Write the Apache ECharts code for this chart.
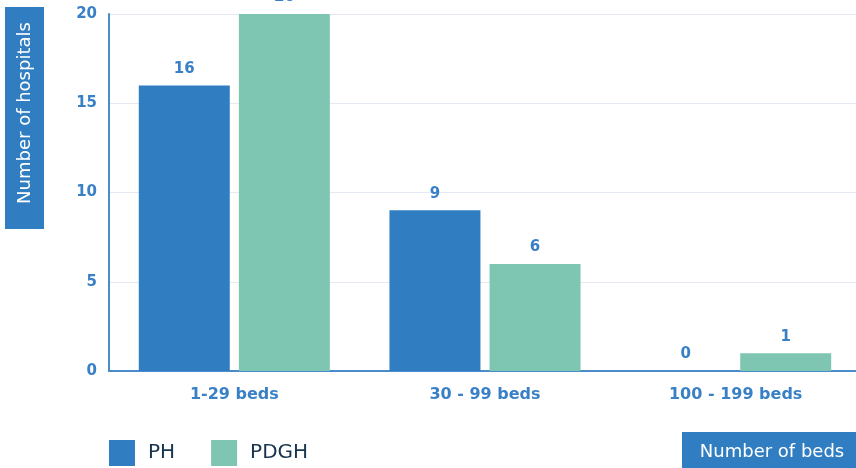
<!DOCTYPE html>
<html><head><meta charset="utf-8">
<script src="https://cdn.jsdelivr.net/npm/echarts@6/dist/echarts.min.js"></script>
<style>html,body{margin:0;padding:0;background:#fff;overflow:hidden}#c{width:861px;height:468px}</style>
</head><body><div id="c"></div>
<script>
const categories = ['1-29 beds', '30 - 99 beds', '100 - 199 beds'];
const seriesNames = ['PH', 'PDGH'];
const phValues = [16, 9, 0];
const pdghValues = [20, 6, 1];
const yTicks = [0, 5, 10, 15, 20];
const yAxisTitle = 'Number of hospitals';
const xAxisTitle = 'Number of beds';

const blue = '#307ec1', green = '#7fc6b2', labelBlue = '#3a80c6';
const font = 'DejaVu Sans';
const chart = echarts.init(document.getElementById('c'));
chart.setOption({
  animation: false,
  textStyle: {fontFamily: font},
  grid: {left: 109, top: 14, right: 0, bottom: 97, containLabel: false},
  legend: {
    data: seriesNames, left: 109, top: 440, padding: 0, itemWidth: 26, itemHeight: 26, itemGap: 36,
    icon: 'rect',
    textStyle: {fontFamily: font, fontSize: 20, color: '#17344f', padding: [2, 0, 0, 8]}
  },
  xAxis: {
    type: 'category', data: categories,
    axisLine: {lineStyle: {color: '#4a8bcb', width: 2}},
    axisTick: {show: false},
    axisLabel: {color: labelBlue, fontWeight: 'bold', fontSize: 16, margin: 16, fontFamily: font}
  },
  yAxis: {
    type: 'value', min: yTicks[0], max: yTicks[yTicks.length - 1], interval: 5,
    axisLine: {show: true, lineStyle: {color: '#4a8bcb', width: 2}},
    axisTick: {show: false},
    splitLine: {lineStyle: {color: '#e4e9f4', width: 1}},
    axisLabel: {color: labelBlue, fontWeight: 'bold', fontSize: 15, margin: 12, fontFamily: font}
  },
  series: [
    {name: seriesNames[0], type: 'bar', data: phValues, barWidth: '36.3%', barGap: '10%',
     itemStyle: {color: blue},
     label: {show: true, position: 'top', distance: 9, color: labelBlue, fontWeight: 'bold', fontSize: 15, fontFamily: font}},
    {name: seriesNames[1], type: 'bar', data: pdghValues, barWidth: '36.3%', barGap: '10%',
     itemStyle: {color: green},
     label: {show: true, position: 'top', distance: 9, color: labelBlue, fontWeight: 'bold', fontSize: 15, fontFamily: font}}
  ],
  graphic: [
    {type: 'rect', left: 5, top: 7, shape: {width: 39, height: 222}, style: {fill: blue}},
    {type: 'text', x: 25, y: 113, rotation: Math.PI / 2,
     style: {text: yAxisTitle, fill: '#fff', font: '18px "DejaVu Sans"', align: 'center', verticalAlign: 'middle'}},
    {type: 'rect', left: 682, top: 432, shape: {width: 180, height: 40}, style: {fill: blue}},
    {type: 'text', x: 772, y: 452,
     style: {text: xAxisTitle, fill: '#fff', font: '18px "DejaVu Sans"', align: 'center', verticalAlign: 'middle'}}
  ]
});
</script></body></html>
